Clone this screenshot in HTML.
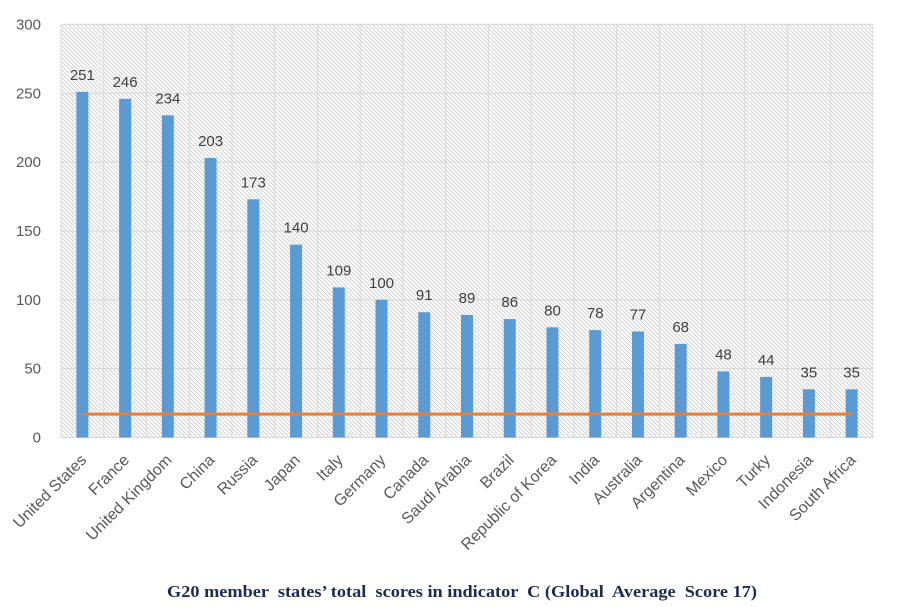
<!DOCTYPE html>
<html>
<head>
<meta charset="utf-8">
<style>
  html, body { margin: 0; padding: 0; background: #ffffff; }
  svg { display: block; }
  .yl { font-family: "Liberation Sans", Arial, sans-serif; font-size: 15px; fill: #595959; text-anchor: end; }
  .dl { font-family: "Liberation Sans", Arial, sans-serif; font-size: 15px; fill: #404040; text-anchor: middle; }
  .cl { font-family: "Liberation Sans", Arial, sans-serif; font-size: 16px; fill: #595959; text-anchor: end; }
  .tt { font-family: "Liberation Serif", "Times New Roman", serif; font-size: 17px; font-weight: bold; fill: #1c2b55; }
</style>
</head>
<body>
<svg width="900" height="607" viewBox="0 0 900 607" xmlns="http://www.w3.org/2000/svg">
  <defs>
    <pattern id="hatch" patternUnits="userSpaceOnUse" width="4" height="4">
      <rect width="4" height="4" fill="#ffffff"/>
      <path d="M-1,-1 L5,5 M-1,3 L1,5 M3,-1 L5,1" stroke="#d2d2d2" stroke-width="1"/>
    </pattern>
  </defs>

  <!-- plot background -->
  <rect x="61" y="24.4" width="812" height="413.1" fill="url(#hatch)"/>

  <!-- horizontal gridlines -->
  <g stroke="#d9d9d9" stroke-width="1">
    <line x1="61" y1="24.4" x2="873" y2="24.4"/>
    <line x1="61" y1="93.25" x2="873" y2="93.25"/>
    <line x1="61" y1="162.1" x2="873" y2="162.1"/>
    <line x1="61" y1="230.95" x2="873" y2="230.95"/>
    <line x1="61" y1="299.8" x2="873" y2="299.8"/>
    <line x1="61" y1="368.65" x2="873" y2="368.65"/>
    <line x1="61" y1="437.5" x2="873" y2="437.5"/>
  </g>
  <!-- vertical gridlines -->
  <g stroke="#d9d9d9" stroke-width="1">
    <line x1="61" y1="24.4" x2="61" y2="437.5"/>
    <line x1="103.74" y1="24.4" x2="103.74" y2="437.5"/>
    <line x1="146.47" y1="24.4" x2="146.47" y2="437.5"/>
    <line x1="189.21" y1="24.4" x2="189.21" y2="437.5"/>
    <line x1="231.95" y1="24.4" x2="231.95" y2="437.5"/>
    <line x1="274.68" y1="24.4" x2="274.68" y2="437.5"/>
    <line x1="317.42" y1="24.4" x2="317.42" y2="437.5"/>
    <line x1="360.16" y1="24.4" x2="360.16" y2="437.5"/>
    <line x1="402.89" y1="24.4" x2="402.89" y2="437.5"/>
    <line x1="445.63" y1="24.4" x2="445.63" y2="437.5"/>
    <line x1="488.37" y1="24.4" x2="488.37" y2="437.5"/>
    <line x1="531.11" y1="24.4" x2="531.11" y2="437.5"/>
    <line x1="573.84" y1="24.4" x2="573.84" y2="437.5"/>
    <line x1="616.58" y1="24.4" x2="616.58" y2="437.5"/>
    <line x1="659.32" y1="24.4" x2="659.32" y2="437.5"/>
    <line x1="702.05" y1="24.4" x2="702.05" y2="437.5"/>
    <line x1="744.79" y1="24.4" x2="744.79" y2="437.5"/>
    <line x1="787.53" y1="24.4" x2="787.53" y2="437.5"/>
    <line x1="830.26" y1="24.4" x2="830.26" y2="437.5"/>
    <line x1="873" y1="24.4" x2="873" y2="437.5"/>
  </g>

  <!-- y-axis labels -->
  <text class="yl" x="41" y="29.4">300</text>
  <text class="yl" x="41" y="98.25">250</text>
  <text class="yl" x="41" y="167.1">200</text>
  <text class="yl" x="41" y="235.95">150</text>
  <text class="yl" x="41" y="304.8">100</text>
  <text class="yl" x="41" y="373.65">50</text>
  <text class="yl" x="41" y="442.5">0</text>

  <!-- bars -->
  <g fill="#5b9bd5">
    <rect x="76.37" y="91.9" width="12" height="345.6"/>
    <rect x="119.11" y="98.8" width="12" height="338.7"/>
    <rect x="161.84" y="115.3" width="12" height="322.2"/>
    <rect x="204.58" y="158.0" width="12" height="279.5"/>
    <rect x="247.32" y="199.3" width="12" height="238.2"/>
    <rect x="290.05" y="244.7" width="12" height="192.8"/>
    <rect x="332.79" y="287.4" width="12" height="150.1"/>
    <rect x="375.53" y="299.8" width="12" height="137.7"/>
    <rect x="418.26" y="312.2" width="12" height="125.3"/>
    <rect x="461.00" y="314.9" width="12" height="122.6"/>
    <rect x="503.74" y="319.1" width="12" height="118.4"/>
    <rect x="546.47" y="327.3" width="12" height="110.2"/>
    <rect x="589.21" y="330.1" width="12" height="107.4"/>
    <rect x="631.95" y="331.5" width="12" height="106.0"/>
    <rect x="674.68" y="343.9" width="12" height="93.6"/>
    <rect x="717.42" y="371.4" width="12" height="66.1"/>
    <rect x="760.16" y="376.9" width="12" height="60.6"/>
    <rect x="802.89" y="389.3" width="12" height="48.2"/>
    <rect x="845.63" y="389.3" width="12" height="48.2"/>
  </g>

  <!-- average line -->
  <line x1="82.4" y1="414.1" x2="851.6" y2="414.1" stroke="#ed7d31" stroke-width="3"/>

  <!-- data labels -->
  <text class="dl" x="82.37" y="80">251</text>
  <text class="dl" x="125.11" y="86.8">246</text>
  <text class="dl" x="167.84" y="103.3">234</text>
  <text class="dl" x="210.58" y="146">203</text>
  <text class="dl" x="253.32" y="187.3">173</text>
  <text class="dl" x="296.05" y="232.7">140</text>
  <text class="dl" x="338.79" y="275.4">109</text>
  <text class="dl" x="381.53" y="287.8">100</text>
  <text class="dl" x="424.26" y="300.2">91</text>
  <text class="dl" x="467.00" y="302.9">89</text>
  <text class="dl" x="509.74" y="307.1">86</text>
  <text class="dl" x="552.47" y="315.3">80</text>
  <text class="dl" x="595.21" y="318.1">78</text>
  <text class="dl" x="637.95" y="319.5">77</text>
  <text class="dl" x="680.68" y="331.9">68</text>
  <text class="dl" x="723.42" y="359.4">48</text>
  <text class="dl" x="766.16" y="364.9">44</text>
  <text class="dl" x="808.89" y="377.3">35</text>
  <text class="dl" x="851.63" y="377.3">35</text>

  <!-- category labels -->
  <text class="cl" transform="translate(87.37,461) rotate(-45)">United States</text>
  <text class="cl" transform="translate(130.11,461) rotate(-45)">France</text>
  <text class="cl" transform="translate(172.84,461) rotate(-45)">United Kingdom</text>
  <text class="cl" transform="translate(215.58,461) rotate(-45)">China</text>
  <text class="cl" transform="translate(258.32,461) rotate(-45)">Russia</text>
  <text class="cl" transform="translate(301.05,461) rotate(-45)">Japan</text>
  <text class="cl" transform="translate(343.79,461) rotate(-45)">Italy</text>
  <text class="cl" transform="translate(386.53,461) rotate(-45)">Germany</text>
  <text class="cl" transform="translate(429.26,461) rotate(-45)">Canada</text>
  <text class="cl" transform="translate(472.00,461) rotate(-45)">Saudi Arabia</text>
  <text class="cl" transform="translate(514.74,461) rotate(-45)">Brazil</text>
  <text class="cl" transform="translate(557.47,461) rotate(-45)">Republic of Korea</text>
  <text class="cl" transform="translate(600.21,461) rotate(-45)">India</text>
  <text class="cl" transform="translate(642.95,461) rotate(-45)">Australia</text>
  <text class="cl" transform="translate(685.68,461) rotate(-45)">Argentina</text>
  <text class="cl" transform="translate(728.42,461) rotate(-45)">Mexico</text>
  <text class="cl" transform="translate(771.16,461) rotate(-45)">Turky</text>
  <text class="cl" transform="translate(813.89,461) rotate(-45)">Indonesia</text>
  <text class="cl" transform="translate(856.63,461) rotate(-45)">South Africa</text>

  <!-- title -->
  <text class="tt" x="167" y="597" textLength="590" lengthAdjust="spacingAndGlyphs" xml:space="preserve">G20 member  states’ total  scores in indicator  C (Global  Average  Score 17)</text>
</svg>
</body>
</html>
